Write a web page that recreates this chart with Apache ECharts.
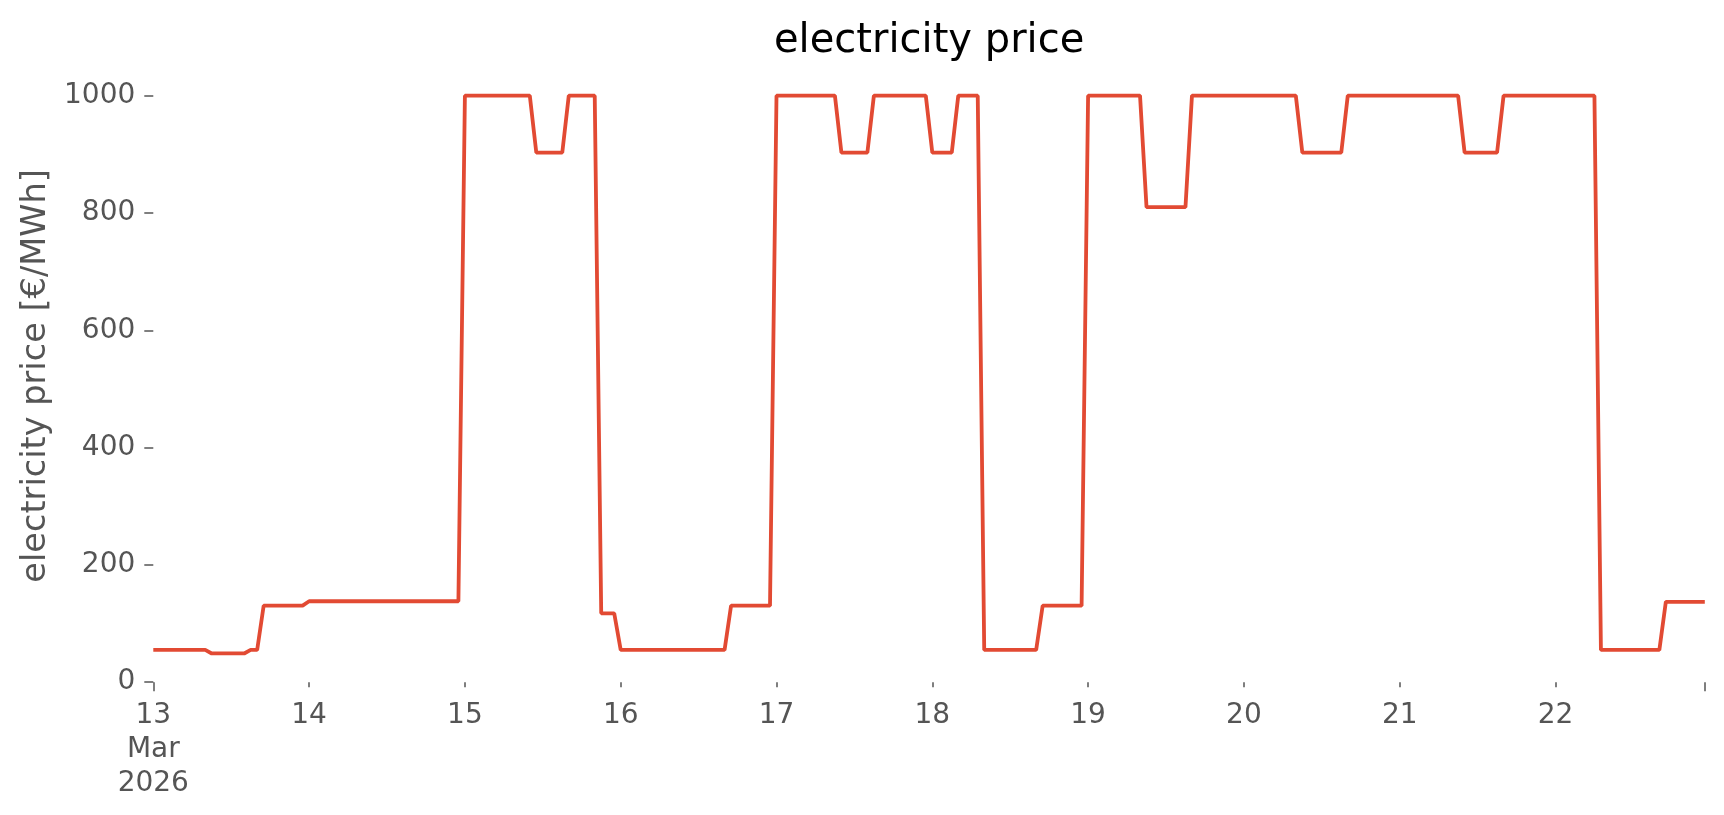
<!DOCTYPE html>
<html>
<head>
<meta charset="utf-8">
<script src="https://cdn.jsdelivr.net/npm/echarts@6/dist/echarts.min.js"></script>
<style>
html,body{margin:0;padding:0;background:#ffffff;}
#chart{width:1724px;height:815px;}
</style>
</head>
<body>
<div id="chart"></div>
<script>
// ---- data (hourly electricity price, €/MWh) ----
const dayLabels = ['13','14','15','16','17','18','19','20','21','22'];
const yTickValues = [0, 200, 400, 600, 800, 1000];

const mar13 = [55,55,55,55,55,55,55,55,55, 49,49,49,49,49,49, 55,55, 130.5,130.5,130.5,130.5,130.5,130.5,130.5];
const mar14 = [138,138,138,138,138,138,138,138,138,138,138,138,138,138,138,138,138,138,138,138,138,138,138,138];
const mar15 = [1000,1000,1000,1000,1000,1000,1000,1000,1000,1000,1000, 903,903,903,903,903, 1000,1000,1000,1000,1000, 117.5,117.5,117.5];
const mar16 = [55,55,55,55,55,55,55,55,55,55,55,55,55,55,55,55,55, 130.5,130.5,130.5,130.5,130.5,130.5,130.5];
const mar17 = [1000,1000,1000,1000,1000,1000,1000,1000,1000,1000, 903,903,903,903,903, 1000,1000,1000,1000,1000,1000,1000,1000,1000];
const mar18 = [903,903,903,903, 1000,1000,1000,1000, 55,55,55,55,55,55,55,55,55, 130.5,130.5,130.5,130.5,130.5,130.5,130.5];
const mar19 = [1000,1000,1000,1000,1000,1000,1000,1000,1000, 810,810,810,810,810,810,810, 1000,1000,1000,1000,1000,1000,1000,1000];
const mar20 = [1000,1000,1000,1000,1000,1000,1000,1000,1000, 903,903,903,903,903,903,903, 1000,1000,1000,1000,1000,1000,1000,1000];
const mar21 = [1000,1000,1000,1000,1000,1000,1000,1000,1000,1000, 903,903,903,903,903,903, 1000,1000,1000,1000,1000,1000,1000,1000];
const mar22 = [1000,1000,1000,1000,1000,1000,1000, 55,55,55,55,55,55,55,55,55,55, 137,137,137,137,137,137,137];

const days = [mar13, mar14, mar15, mar16, mar17, mar18, mar19, mar20, mar21, mar22];

const categories = [];
const values = [];
days.forEach(function (d, i) {
  d.forEach(function (v, h) {
    categories.push('2026-03-' + dayLabels[i] + ' ' + (h < 10 ? '0' + h : '' + h) + ':00');
    values.push(v);
  });
});
const lastIndex = categories.length - 1;

const FONT = 'DejaVu Sans';
const GREY = '#555555';

const chart = echarts.init(document.getElementById('chart'), null, {renderer: 'canvas'});
chart.setOption({
  animation: false,
  backgroundColor: '#ffffff',
  title: {
    text: 'electricity price',
    left: 769,
    top: 17,
    textStyle: {fontSize: 40, fontWeight: 'normal', color: '#000000', fontFamily: FONT}
  },
  grid: {left: 153.3, right: 19.2, top: 95.7, bottom: 132.8, containLabel: false, outerBoundsMode: 'none'},
  xAxis: [
    {
      type: 'category',
      data: categories,
      boundaryGap: false,
      position: 'bottom',
      axisLine: {show: false},
      splitLine: {show: false},
      axisTick: {
        show: true,
        interval: function (i) { return i % 24 === 0; },
        length: 5,
        lineStyle: {color: GREY, width: 1.5}
      },
      axisLabel: {
        interval: function (i) { return i % 24 === 0; },
        formatter: function (value, index) {
          const day = String(parseInt(value.slice(8, 10), 10));
          return index === 0 ? day + '\nMar\n2026' : day;
        },
        color: GREY,
        fontSize: 28,
        fontFamily: FONT,
        margin: 17,
        lineHeight: 34
      }
    },
    {
      type: 'category',
      data: categories,
      boundaryGap: false,
      position: 'bottom',
      axisLine: {show: false},
      splitLine: {show: false},
      axisLabel: {show: false},
      axisTick: {
        show: true,
        interval: function (i) { return i === 0 || i === lastIndex; },
        length: 9,
        lineStyle: {color: GREY, width: 1.5}
      }
    }
  ],
  yAxis: {
    type: 'value',
    min: yTickValues[0],
    max: yTickValues[yTickValues.length - 1],
    interval: yTickValues[1] - yTickValues[0],
    axisLine: {show: false},
    splitLine: {show: false},
    axisTick: {show: true, length: 9, lineStyle: {color: GREY, width: 1.5}},
    axisLabel: {color: GREY, fontSize: 28, fontFamily: FONT, margin: 18,
      formatter: function (v) { return String(v); }},
    name: 'electricity price [€/MWh]',
    nameLocation: 'middle',
    nameGap: 83,
    nameTextStyle: {color: GREY, fontSize: 33.6, fontFamily: FONT, padding: [0, 0, 0, 26]}
  },
  series: [{
    type: 'line',
    data: values,
    xAxisIndex: 0,
    showSymbol: false,
    symbol: 'none',
    clip: false,
    lineStyle: {color: '#E24A33', width: 3.8},
    itemStyle: {color: '#E24A33'}
  }]
});
</script>
</body>
</html>
